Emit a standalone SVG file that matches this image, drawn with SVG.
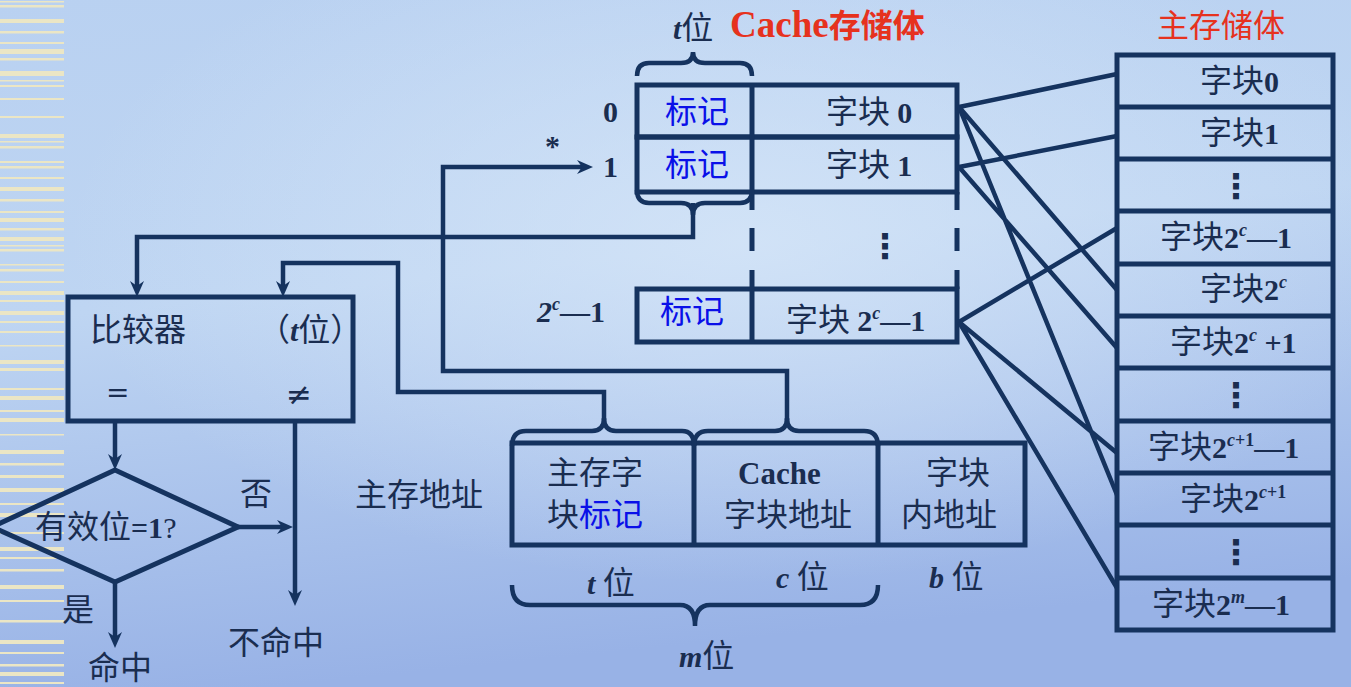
<svg xmlns="http://www.w3.org/2000/svg" width="1351" height="687" viewBox="0 0 1351 687">
<defs>
<linearGradient id="bg" x1="0" y1="0" x2="0.2" y2="1">
<stop offset="0" stop-color="#b9d1f1"/>
<stop offset="0.45" stop-color="#bed5f2"/>
<stop offset="1" stop-color="#98b2e6"/>
</linearGradient>
<radialGradient id="hl" cx="0.55" cy="0.35" r="0.5">
<stop offset="0" stop-color="#d6e6f8" stop-opacity="0.8"/>
<stop offset="1" stop-color="#d6e6f8" stop-opacity="0"/>
</radialGradient>
<marker id="ah" viewBox="0 0 16 16" refX="6" refY="8" markerWidth="16" markerHeight="16" markerUnits="userSpaceOnUse" orient="auto">
<path d="M0,1 L16,8 L0,15 L5,8 z" fill="#15335f"/>
</marker>
<style>
.ln{fill:none;stroke:#15335f;stroke-width:4.5;stroke-linejoin:miter}
.bx{fill:none;stroke:#15335f;stroke-width:5}
.cj{font-family:"Noto Sans CJK SC","Noto Sans CJK JP",sans-serif;font-size:32px;fill:#1a2d50}
.lt{font-family:"Liberation Serif",serif;font-weight:bold;fill:#1a2d50}
.it{font-style:italic}
.bl{fill:#0a10e8}
.red{fill:#e6321e}
.dots{font-family:"DejaVu Sans",sans-serif;font-weight:bold;font-size:34px;fill:#1a2d50}
.st{fill:#ebe6c5}
</style>
</defs>
<rect width="1351" height="687" fill="url(#bg)"/>
<rect width="1351" height="687" fill="url(#hl)"/>
<g id="stripes">
<rect class="st" x="0" y="1" width="64" height="1.5"/>
<rect class="st" x="0" y="5" width="64" height="2.5"/>
<rect class="st" x="0" y="19" width="64" height="4"/>
<rect class="st" x="0" y="31" width="64" height="2.5"/>
<rect class="st" x="0" y="42" width="64" height="2"/>
<rect class="st" x="0" y="49" width="64" height="5"/>
<rect class="st" x="0" y="58" width="64" height="2.5"/>
<rect class="st" x="0" y="71" width="64" height="5"/>
<rect class="st" x="0" y="80" width="64" height="1.5"/>
<rect class="st" x="0" y="85" width="64" height="2"/>
<rect class="st" x="0" y="98" width="64" height="2"/>
<rect class="st" x="0" y="116" width="64" height="2"/>
<rect class="st" x="0" y="134" width="64" height="4"/>
<rect class="st" x="0" y="141" width="64" height="1.5"/>
<rect class="st" x="0" y="146" width="64" height="2.5"/>
<rect class="st" x="0" y="161" width="64" height="2"/>
<rect class="st" x="0" y="166" width="64" height="2.5"/>
<rect class="st" x="0" y="177" width="64" height="2"/>
<rect class="st" x="0" y="187" width="64" height="4"/>
<rect class="st" x="0" y="199" width="64" height="2.5"/>
<rect class="st" x="0" y="211" width="64" height="2"/>
<rect class="st" x="0" y="218" width="64" height="4"/>
<rect class="st" x="0" y="228" width="64" height="2.5"/>
<rect class="st" x="0" y="237" width="64" height="4"/>
<rect class="st" x="0" y="245" width="64" height="1.5"/>
<rect class="st" x="0" y="249" width="64" height="2.5"/>
<rect class="st" x="0" y="264" width="64" height="1.5"/>
<rect class="st" x="0" y="269" width="64" height="2.5"/>
<rect class="st" x="0" y="281" width="64" height="2"/>
<rect class="st" x="0" y="291" width="64" height="4"/>
<rect class="st" x="0" y="300" width="64" height="2"/>
<rect class="st" x="0" y="311" width="64" height="4"/>
<rect class="st" x="0" y="321" width="64" height="2"/>
<rect class="st" x="0" y="331" width="64" height="2"/>
<rect class="st" x="0" y="345" width="64" height="1.5"/>
<rect class="st" x="0" y="360" width="64" height="4"/>
<rect class="st" x="0" y="368" width="64" height="3"/>
<rect class="st" x="0" y="388" width="64" height="2"/>
<rect class="st" x="0" y="396" width="64" height="4"/>
<rect class="st" x="0" y="410" width="64" height="2"/>
<rect class="st" x="0" y="418" width="64" height="4"/>
<rect class="st" x="0" y="434" width="64" height="1.5"/>
<rect class="st" x="0" y="450" width="64" height="4"/>
<rect class="st" x="0" y="463" width="64" height="2.5"/>
<rect class="st" x="0" y="475" width="64" height="3"/>
<rect class="st" x="0" y="488" width="64" height="4"/>
<rect class="st" x="0" y="503" width="64" height="2"/>
<rect class="st" x="0" y="513" width="64" height="4"/>
<rect class="st" x="0" y="532" width="64" height="2"/>
<rect class="st" x="0" y="547" width="64" height="4"/>
<rect class="st" x="0" y="557" width="64" height="2"/>
<rect class="st" x="0" y="569" width="64" height="2.5"/>
<rect class="st" x="0" y="585" width="64" height="4"/>
<rect class="st" x="0" y="600" width="64" height="2"/>
<rect class="st" x="0" y="620" width="64" height="2.5"/>
<rect class="st" x="0" y="640" width="64" height="4"/>
<rect class="st" x="0" y="652" width="64" height="2"/>
<rect class="st" x="0" y="664" width="64" height="2.5"/>
<rect class="st" x="0" y="672" width="64" height="4"/>
<rect class="st" x="0" y="682" width="64" height="2"/>
</g>

<g id="title-cache">
<text x="730" y="37" class="lt red" font-size="37">Cache<tspan class="cj red" font-weight="bold" font-size="35">存储体</tspan></text>
</g>
<g id="title-main">
<text x="1157" y="37" class="cj red" font-size="37">主存储体</text>
</g>

<g id="cache">
<rect class="bx" x="637" y="85" width="320" height="52"/>
<rect class="bx" x="637" y="137" width="320" height="55"/>
<rect class="bx" x="637" y="289" width="320" height="53"/>
<line class="bx" x1="752" y1="85" x2="752" y2="192"/>
<line class="bx" x1="752" y1="289" x2="752" y2="342"/>
<path class="bx" d="M752,192 V210 M752,228 V251 M752,270 V289 M957,192 V210 M957,228 V251 M957,270 V289"/>
<path class="ln" d="M637,76 Q637,63 649,63 L681,63 Q693,63 693,52 Q693,63 705,63 L740,63 Q752,63 752,76"/>
<text x="673" y="39" class="lt it" font-size="30">t<tspan class="cj" font-style="normal" font-weight="normal" font-size="30">位</tspan></text>
<text x="603" y="122" class="lt" font-size="30">0</text>
<text x="603" y="177" class="lt" font-size="30">1</text>
<text x="545" y="156" font-family="Liberation Serif,serif" font-weight="bold" font-size="30" fill="#1a2d50">*</text>
<text x="537" y="322" class="lt" font-size="30"><tspan class="it">2</tspan><tspan class="it" font-size="18" dy="-12">c</tspan><tspan dy="12">—1</tspan></text>
<text x="665" y="123" class="cj bl">标记</text>
<text x="665" y="176" class="cj bl">标记</text>
<text x="660" y="323" class="cj bl">标记</text>
<text x="826" y="123" class="cj">字块 <tspan class="lt" font-size="30">0</tspan></text>
<text x="826" y="176" class="cj">字块 <tspan class="lt" font-size="30">1</tspan></text>
<text x="868" y="258" class="dots">⋮</text>
<text x="786" y="331" class="cj">字块 <tspan class="lt" font-size="30">2</tspan><tspan class="lt it" font-size="18" dy="-12">c</tspan><tspan class="lt" font-size="30" dy="12">—1</tspan></text>
</g>

<g id="main-memory">
<rect class="bx" x="1117" y="55" width="216" height="575"/>
<path class="bx" d="M1117,107 H1333 M1117,159 H1333 M1117,211 H1333 M1117,264 H1333 M1117,316 H1333 M1117,368 H1333 M1117,421 H1333 M1117,473 H1333 M1117,525 H1333 M1117,578 H1333"/>
<text x="1200" y="92" class="cj" font-size="31">字块<tspan class="lt" font-size="30">0</tspan></text>
<text x="1200" y="144" class="cj" font-size="31">字块<tspan class="lt" font-size="30">1</tspan></text>
<text x="1219" y="198" class="dots">⋮</text>
<text x="1160" y="248" class="cj" font-size="31">字块<tspan class="lt" font-size="30">2</tspan><tspan class="lt it" font-size="18" dy="-12">c</tspan><tspan class="lt" font-size="30" dy="12">—1</tspan></text>
<text x="1200" y="300" class="cj" font-size="31">字块<tspan class="lt" font-size="30">2</tspan><tspan class="lt it" font-size="18" dy="-12">c</tspan></text>
<text x="1170" y="353" class="cj" font-size="31">字块<tspan class="lt" font-size="30">2</tspan><tspan class="lt it" font-size="18" dy="-12">c</tspan><tspan class="lt" font-size="30" dy="12"> +1</tspan></text>
<text x="1219" y="407" class="dots">⋮</text>
<text x="1148" y="458" class="cj" font-size="31">字块<tspan class="lt" font-size="30">2</tspan><tspan class="lt" font-size="18" dy="-12"><tspan class="it">c</tspan>+1</tspan><tspan class="lt" font-size="30" dy="12">—1</tspan></text>
<text x="1180" y="510" class="cj" font-size="31">字块<tspan class="lt" font-size="30">2</tspan><tspan class="lt" font-size="18" dy="-12"><tspan class="it">c</tspan>+1</tspan></text>
<text x="1219" y="564" class="dots">⋮</text>
<text x="1152" y="615" class="cj" font-size="31">字块<tspan class="lt" font-size="30">2</tspan><tspan class="lt it" font-size="18" dy="-12">m</tspan><tspan class="lt" font-size="30" dy="12">—1</tspan></text>
</g>

<g id="address">
<rect class="bx" x="512" y="443" width="513" height="102"/>
<line class="bx" x1="694" y1="443" x2="694" y2="545"/>
<line class="bx" x1="878" y1="443" x2="878" y2="545"/>
<path class="ln" d="M512,446 Q512,431 526,431 L592,431 Q604,431 604,418 Q604,431 616,431 L682,431 Q694,431 694,446"/>
<path class="ln" d="M694,446 Q694,431 708,431 L775,431 Q787,431 787,418 Q787,431 799,431 L864,431 Q878,431 878,446"/>
<path class="ln" d="M512,585 Q512,605 530,605 L680,605 Q695,605 695,626 Q695,605 710,605 L860,605 Q878,605 878,585"/>
<text x="547" y="484" class="cj">主存字</text>
<text x="547" y="526" class="cj">块<tspan class="bl">标记</tspan></text>
<text x="738" y="484" class="lt" font-size="31">Cache</text>
<text x="724" y="526" class="cj">字块地址</text>
<text x="926" y="484" class="cj">字块</text>
<text x="901" y="526" class="cj">内地址</text>
<text x="587" y="594" class="lt it" font-size="30">t <tspan class="cj" font-style="normal" font-weight="normal">位</tspan></text>
<text x="776" y="588" class="lt it" font-size="30">c <tspan class="cj" font-style="normal" font-weight="normal">位</tspan></text>
<text x="929" y="588" class="lt it" font-size="30">b <tspan class="cj" font-style="normal" font-weight="normal">位</tspan></text>
<text x="679" y="667" class="lt it" font-size="30">m<tspan class="cj" font-style="normal" font-weight="normal">位</tspan></text>
<text x="355" y="506" class="cj">主存地址</text>
</g>

<g id="comparator">
<rect class="bx" x="68" y="297" width="285" height="124"/>
<text x="90" y="341" class="cj">比较器</text>
<text x="258" y="341" class="cj">（<tspan class="lt it" font-size="30">t</tspan>位）</text>
<text x="106" y="402" font-family="DejaVu Sans,sans-serif" font-size="28" fill="#1a2d50">=</text>
<text x="286" y="405" font-family="DejaVu Sans,sans-serif" font-size="31" fill="#1a2d50">≠</text>
</g>

<g id="valid-check">
<polygon class="bx" points="115,470 238,527 115,582 -8,527"/>
<text x="35" y="538" class="cj">有效位<tspan class="lt" font-size="30">=1</tspan><tspan font-family="Liberation Serif,serif" font-size="30">?</tspan></text>
</g>

<g id="labels">
<text x="240" y="505" class="cj">否</text>
<text x="228" y="654" class="cj">不命中</text>
<text x="62" y="621" class="cj">是</text>
<text x="88" y="679" class="cj">命中</text>
</g>

<g id="connectors">
<path class="ln" d="M693,203 L693,237 L137,237 L137,287" marker-end="url(#ah)"/>
<path class="ln" d="M637,190 Q637,203 649,203 L681,203 Q693,203 693,215 Q693,203 705,203 L740,203 Q752,203 752,190"/>
<path class="ln" d="M604,420 L604,392 L398,392 L398,263 L283,263 L283,287" marker-end="url(#ah)"/>
<path class="ln" d="M787,420 L787,371 L443,371 L443,167 L583,167" marker-end="url(#ah)"/>
<path class="ln" d="M115,421 L115,460" marker-end="url(#ah)"/>
<path class="ln" d="M295,421 L295,596" marker-end="url(#ah)"/>
<path class="ln" d="M238,527 L283,527" marker-end="url(#ah)"/>
<path class="ln" d="M115,582 L115,638" marker-end="url(#ah)"/>
<path class="ln" d="M959,107 L1117,74 M959,107 L1117,290 M959,107 L1117,495 M959,167 L1117,136 M959,167 L1117,348 M959,322 L1117,228 M959,322 L1117,453 M959,322 L1117,588"/>
</g>
</svg>
